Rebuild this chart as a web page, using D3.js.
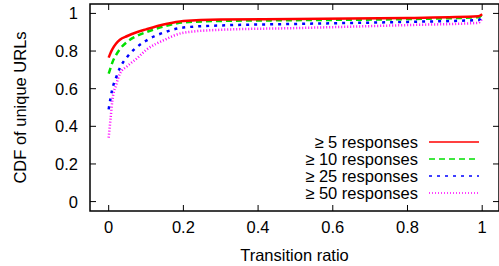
<!DOCTYPE html>
<html>
<head>
<meta charset="utf-8">
<script src="https://cdn.jsdelivr.net/npm/d3@7"></script>
<style>
body { margin: 0; background: #fff; }
text { font-family: "Liberation Sans", Arial, sans-serif; fill: #000; }
</style>
</head>
<body>
<div id="chart"></div>
<script>
// transition ratio sample points
var ratios = [0, 0.005, 0.01, 0.02, 0.03, 0.05, 0.075, 0.1, 0.15, 0.2, 0.3, 0.5, 0.8, 0.99, 1];

var resp5  = [0.765, 0.79, 0.81, 0.84, 0.86, 0.88, 0.90, 0.915, 0.942, 0.96, 0.968, 0.97, 0.976, 0.985, 0.995];
var resp10 = [0.68, 0.71, 0.74, 0.78, 0.81, 0.85, 0.88, 0.90, 0.932, 0.952, 0.96, 0.964, 0.97, 0.98, 0.995];
var resp25 = [0.49, 0.55, 0.60, 0.66, 0.71, 0.77, 0.82, 0.855, 0.90, 0.925, 0.936, 0.944, 0.955, 0.965, 0.985];
var resp50 = [0.34, 0.44, 0.54, 0.62, 0.68, 0.72, 0.76, 0.805, 0.86, 0.897, 0.913, 0.922, 0.938, 0.95, 0.975];

var seriesNames = ["\u2265 5 responses", "\u2265 10 responses", "\u2265 25 responses", "\u2265 50 responses"];
var seriesValues = [resp5, resp10, resp25, resp50];
var seriesColors = ["#ff0000", "#00e000", "#0000ff", "#ff00ff"];
var seriesDash = [null, "6,4", "3,5", "1,2"];

var xTicks = [0, 0.2, 0.4, 0.6, 0.8, 1];
var yTicks = [0, 0.2, 0.4, 0.6, 0.8, 1];

var width = 499, height = 266;
var margin = {left: 90, right: 0, top: 4, bottom: 55};
var fs = "16.5px";

var svg = d3.select("#chart").append("svg")
	.attr("width", width)
	.attr("height", height);

var x = d3.scaleLinear().domain([-0.05, 1.045]).range([margin.left, width - margin.right]);
var y = d3.scaleLinear().domain([-0.05, 1.05]).range([height - margin.bottom, margin.top]);

// ticks (gnuplot style, mirrored)
var g = svg.append("g").attr("stroke", "#000").attr("stroke-width", 1);
xTicks.forEach(function(t) {
	g.append("line").attr("x1", x(t)).attr("x2", x(t)).attr("y1", y.range()[0]).attr("y2", y.range()[0] - 6);
	g.append("line").attr("x1", x(t)).attr("x2", x(t)).attr("y1", y.range()[1]).attr("y2", y.range()[1] + 6);
});
yTicks.forEach(function(t) {
	g.append("line").attr("x1", x.range()[0]).attr("x2", x.range()[0] + 6).attr("y1", y(t)).attr("y2", y(t));
	g.append("line").attr("x1", x.range()[1]).attr("x2", x.range()[1] - 6).attr("y1", y(t)).attr("y2", y(t));
});

svg.selectAll(".xl").data(xTicks).enter().append("text")
	.attr("x", function(d) { return x(d); })
	.attr("y", 233)
	.attr("text-anchor", "middle")
	.attr("font-size", fs)
	.text(function(d) { return d; });

svg.selectAll(".yl").data(yTicks).enter().append("text")
	.attr("x", x.range()[0] - 12)
	.attr("y", function(d) { return y(d) + 6; })
	.attr("text-anchor", "end")
	.attr("font-size", fs)
	.text(function(d) { return d; });

svg.append("text")
	.attr("x", (x.range()[0] + x.range()[1]) / 2)
	.attr("y", 261)
	.attr("text-anchor", "middle")
	.attr("font-size", fs)
	.text("Transition ratio");

svg.append("text")
	.attr("transform", "translate(25.5," + ((y.range()[0] + y.range()[1]) / 2) + ") rotate(-90)")
	.attr("text-anchor", "middle")
	.attr("font-size", fs)
	.text("CDF of unique URLs");

var line = d3.line()
	.curve(d3.curveMonotoneX)
	.x(function(d) { return x(d[0]); })
	.y(function(d) { return y(d[1]); });

seriesValues.slice().reverse().forEach(function(vals, j) {
	var i = seriesValues.length - 1 - j;
	svg.append("path")
		.datum(ratios.map(function(r, k) { return [r, vals[k]]; }))
		.attr("fill", "none")
		.attr("stroke", seriesColors[i])
		.attr("stroke-width", 2.5)
		.attr("stroke-dasharray", seriesDash[i])
		.attr("d", line);
});

// legend
var legend = svg.append("g");
seriesNames.forEach(function(name, i) {
	var ly = 142 + i * 17;
	legend.append("text")
		.attr("x", 418)
		.attr("y", ly + 6)
		.attr("text-anchor", "end")
		.attr("font-size", fs)
		.text(name);
	legend.append("line")
		.attr("x1", 429).attr("x2", 479)
		.attr("y1", ly).attr("y2", ly)
		.attr("stroke", seriesColors[i])
		.attr("stroke-width", 1.5)
		.attr("stroke-dasharray", seriesDash[i]);
});

svg.append("rect")
	.attr("x", x.range()[0]).attr("y", y.range()[1])
	.attr("width", x.range()[1] - x.range()[0])
	.attr("height", y.range()[0] - y.range()[1])
	.attr("fill", "none")
	.attr("stroke", "#000")
	.attr("stroke-width", 1.5);
</script>
</body>
</html>
